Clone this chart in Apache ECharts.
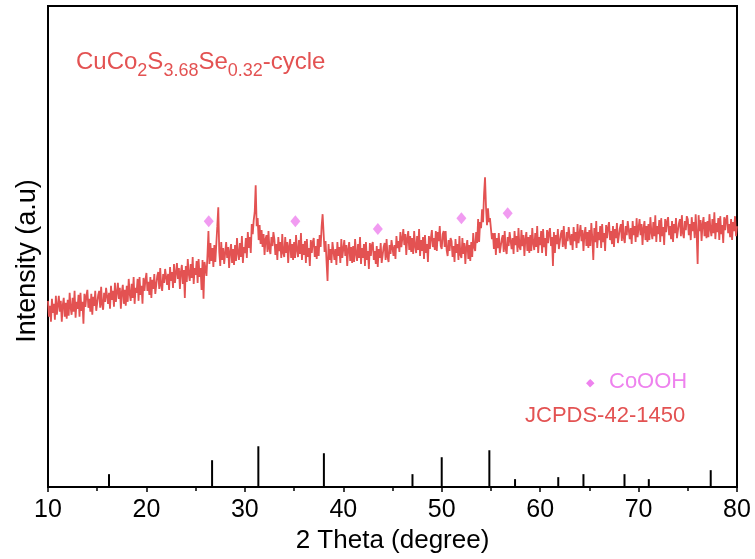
<!DOCTYPE html>
<html>
<head>
<meta charset="utf-8">
<script src="https://cdn.jsdelivr.net/npm/echarts@6/dist/echarts.min.js"></script>
<style>html,body{margin:0;padding:0;background:#fff;}#c{width:755px;height:559px;}</style>
</head>
<body>
<div id="c"></div>
<script>
// ---- data (2θ from 10° in 0.1° steps) ----
const thetaStart = 10;
const thetaStep = 0.1;
const intensity = [
187,171,182,166,189,175,184,168,192,173,
172,192,176,187,166,183,190,171,185,169,
188,172,195,180,173,190,176,197,170,186,
179,193,171,195,177,186,164,194,181,192,
198,180,189,176,194,173,191,182,197,177,
177,193,197,180,201,183,178,195,186,200,
200,184,195,179,202,188,197,181,205,186,
185,205,189,200,179,196,203,184,198,182,
202,186,209,194,187,204,190,211,184,200,
195,209,187,211,193,202,184,210,197,208,
215,197,206,193,211,190,208,199,214,194,
196,212,216,199,220,202,197,214,205,219,
219,203,214,198,221,207,216,200,224,205,
205,225,209,220,199,216,223,204,218,190,
222,206,229,214,207,224,210,231,204,220,
213,227,205,229,211,220,198,228,189,226,
228,212,233,257,224,245,227,240,221,243,
226,244,262,281,236,222,246,228,240,224,
226,246,230,241,220,237,244,225,239,223,
243,227,250,235,228,245,231,252,225,241,
235,250,230,256,240,251,235,264,254,268,
276,303,262,270,248,263,244,258,241,254,
233,249,253,236,257,239,234,251,242,256,
249,233,244,228,251,237,246,230,254,235,
231,251,235,246,225,242,249,230,244,228,
246,230,253,238,231,248,234,255,228,244,
233,247,225,249,231,240,222,248,235,246,
250,231,242,229,249,232,253,241,262,274,
255,236,247,226,207,244,228,239,225,246,
244,228,239,223,246,232,241,225,249,230,
228,248,232,243,222,239,246,227,241,225,
242,226,249,234,227,244,230,251,224,240,
230,244,222,246,228,237,219,245,232,243,
246,228,237,224,242,221,239,230,245,225,
225,241,245,228,249,231,226,243,234,248,
246,232,243,229,252,240,247,236,256,241,
239,259,243,254,233,250,257,238,252,236,
250,234,257,242,235,252,238,259,232,248,
237,251,229,253,235,244,226,252,239,250,
258,241,250,238,257,237,256,247,262,242,
239,254,257,241,257,238,232,248,237,250,
247,231,242,226,249,235,244,228,252,233,
230,250,234,245,224,241,248,229,243,227,
246,231,255,241,237,256,245,269,246,266,
260,279,266,294,311,281,263,280,266,270,
271,249,255,239,255,233,250,240,255,235,
233,249,253,236,257,239,234,251,242,256,
255,239,250,234,257,243,252,236,260,241,
238,258,242,253,232,249,256,237,251,235,
253,237,260,245,238,255,241,262,235,251,
243,257,235,259,241,250,232,258,245,256,
260,242,251,222,256,235,253,244,259,239,
238,254,258,241,262,244,239,256,247,261,
259,243,254,238,261,247,256,240,264,245,
243,263,247,258,237,254,261,242,256,240,
258,242,265,250,228,260,246,267,240,256,
248,262,240,264,246,255,237,263,250,261,
266,248,257,244,262,241,259,250,265,245,
244,260,264,247,268,250,245,262,253,267,
265,249,260,244,267,253,262,246,270,251,
249,269,253,264,243,260,267,248,262,246,
264,248,271,256,249,266,252,273,246,262,
254,268,246,270,252,261,243,269,256,267,
271,253,262,249,267,246,264,255,270,250,
249,265,269,252,273,255,250,267,258,272,
269,253,264,248,271,257,266,250,274,255,
224,273,257,268,247,264,271,252,266,250,
267,251,274,259,252,269,255,276,249,265,
256,270,248,272,254,263,245,271,258,269,
273,255,264,251,269,248,266,257,272,252,
262
];
// JCPDS-42-1450 reference lines
const refTheta  = [16.2, 26.67, 31.37, 38.03, 47.03, 50.0, 54.84, 57.45, 61.84, 64.4, 68.57, 71.04, 77.33];
const refHeight = [13, 27, 41, 34, 13, 30, 37, 8, 10, 13, 13, 8, 17];
// CoOOH markers
const markTheta = [26.33, 35.13, 43.51, 52.0, 56.7];
const markY     = [267, 267, 259, 270, 275];
const xTicks = [10, 20, 30, 40, 50, 60, 70, 80];

const traceData = intensity.map((v, i) => [+(thetaStart + i * thetaStep).toFixed(2), v]);
const stickData = refTheta.map((t, i) => [t, refHeight[i]]);
const markData = markTheta.map((t, i) => [t, markY[i]]);

const FONT = "'Liberation Sans', Arial, sans-serif";
const RED = '#E35252';
const VIOLET = '#EE82EE';

const chart = echarts.init(document.getElementById('c'), null, {renderer: 'canvas'});
chart.setOption({
  animation: false,
  backgroundColor: '#fff',
  grid: {left: 48, right: 18, top: 6, bottom: 70, show: true, borderColor: '#000', borderWidth: 2, backgroundColor: 'transparent'},
  title: {
    text: '{m|CuCo}{s|2}{m|S}{s|3.68}{m|Se}{s|0.32}{m|-cycle}',
    left: 76, top: 50, padding: 0,
    textStyle: {
      fontWeight: 'normal',
      rich: {
        m: {fontFamily: FONT, fontSize: 24, fontWeight: 'normal', color: RED, lineHeight: 30, verticalAlign: 'top'},
        s: {fontFamily: FONT, fontSize: 18, fontWeight: 'normal', color: RED, lineHeight: 30, verticalAlign: 'bottom'}
      }
    }
  },
  xAxis: {
    type: 'value', min: 10, max: 80, interval: 10,
    axisLine: {show: true, lineStyle: {color: '#000', width: 2}},
    axisTick: {show: true, inside: false, length: 5, lineStyle: {color: '#000', width: 1.5}},
    minorTick: {show: true, splitNumber: 2, length: 4, lineStyle: {color: '#000', width: 1.5}},
    splitLine: {show: false},
    axisLabel: {
      fontFamily: FONT, fontSize: 25, color: '#000', margin: 11,
      formatter: v => xTicks.includes(v) ? String(v) : ''
    },
    name: '2 Theta (degree)', nameLocation: 'middle', nameGap: 38,
    nameTextStyle: {fontFamily: FONT, fontSize: 26, color: '#000'}
  },
  yAxis: {
    type: 'value', min: 0, max: 483,
    axisLine: {show: true, lineStyle: {color: '#000', width: 2}},
    axisTick: {show: false}, axisLabel: {show: false}, splitLine: {show: false}
  },
  series: [
    {
      type: 'line', data: traceData, showSymbol: false, symbol: 'none', sampling: null,
      lineStyle: {color: RED, width: 1.8}, z: 2, silent: true
    },
    {
      type: 'custom', data: stickData, z: 3, silent: true,
      renderItem: (params, api) => {
        const p0 = api.coord([api.value(0), 0]);
        const p1 = api.coord([api.value(0), api.value(1)]);
        return {type: 'line', shape: {x1: p0[0], y1: p0[1], x2: p1[0], y2: p1[1]}, style: {stroke: '#000', lineWidth: 2}};
      }
    },
    {
      type: 'scatter', data: markData, symbol: 'diamond', symbolSize: [10, 12],
      itemStyle: {color: VIOLET}, z: 4, silent: true
    }
  ],
  graphic: [
    {type: 'text', x: 28, y: 261, rotation: Math.PI / 2,
     style: {text: 'Intensity (a.u)', fontFamily: FONT, fontSize: 27, fill: '#000', align: 'center', verticalAlign: 'middle'}},
    {type: 'text', left: 586, top: 378, style: {text: '◆', fontFamily: 'DejaVu Sans', fontSize: 11, fill: VIOLET}},
    {type: 'text', left: 609, top: 371, style: {text: 'CoOOH', fontFamily: FONT, fontSize: 22, fill: VIOLET}},
    {type: 'text', left: 525, top: 405, style: {text: 'JCPDS-42-1450', fontFamily: FONT, fontSize: 22, fill: RED}}
  ]
});
</script>
</body>
</html>
